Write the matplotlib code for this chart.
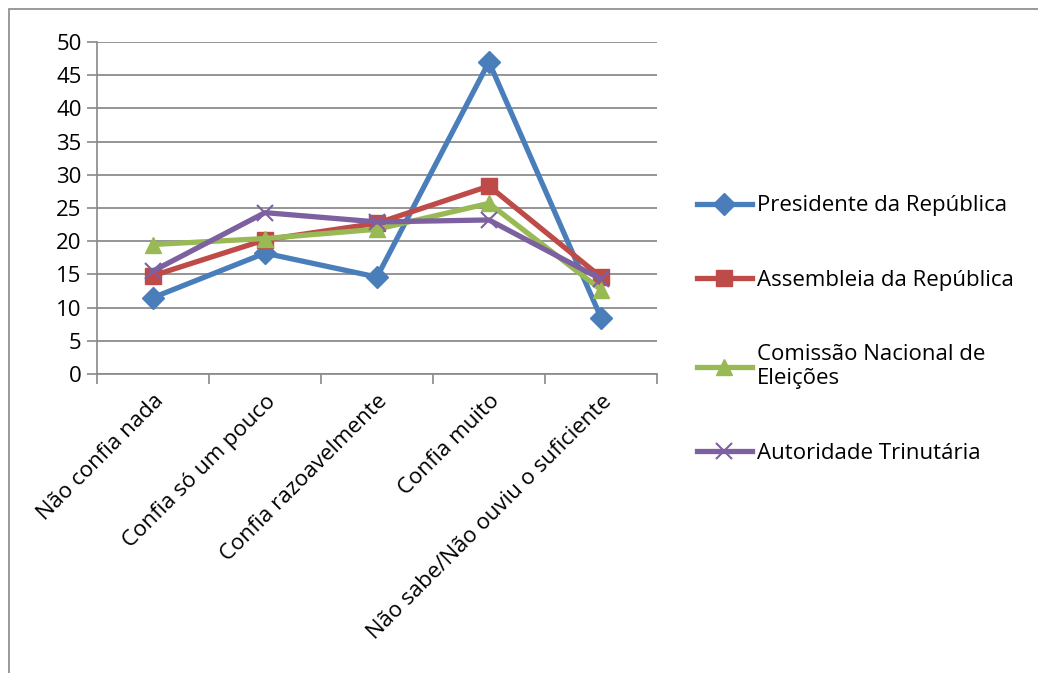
import matplotlib.pyplot as plt
from matplotlib.patches import Rectangle

categories = ["Não confia nada", "Confia só um pouco", "Confia razoavelmente",
              "Confia muito", "Não sabe/Não ouviu o suficiente"]
presidente = [11.5, 18.2, 14.6, 47.0, 8.5]
assembleia = [14.8, 20.2, 22.7, 28.3, 14.6]
comissao = [19.5, 20.4, 21.8, 25.7, 12.7]
autoridade = [15.5, 24.3, 22.9, 23.2, 14.3]

series = [
    ("Presidente da República", presidente, "#4A7EBB", "D", 11),
    ("Assembleia da República", assembleia, "#BE4B48", "s", 11),
    ("Comissão Nacional de\nEleições", comissao, "#98B954", "^", 12),
    ("Autoridade Trinutária", autoridade, "#7D60A0", "x", 12),
]

plt.rcParams['font.family'] = ['Open Sans', 'DejaVu Sans']

fig = plt.figure(figsize=(10.38, 6.73), dpi=100)
ax = fig.add_axes([0.0934, 0.4443, 0.5395, 0.4933])

# outer chart frame
fig.patches.append(Rectangle((0.009, -0.01), 1.2, 0.997, transform=fig.transFigure,
                             fill=False, edgecolor="#898989", linewidth=1.2))

xs = [i + 0.5 for i in range(len(categories))]
for label, vals, color, marker, ms in series:
    kw = dict(markeredgewidth=1.5) if marker == "x" else dict(markeredgecolor=color)
    ax.plot(xs, vals, color=color, linewidth=3.8, marker=marker, markersize=ms,
            label=label, **kw)

ax.set_xlim(0, len(categories))
ax.set_ylim(0, 50)
ax.set_yticks(range(0, 51, 5))
ax.set_xticks(range(len(categories) + 1))
ax.set_xticklabels([])
ax.set_xticks(xs, minor=True)
ax.set_xticklabels(categories, minor=True, rotation=45, ha="right", va="top",
                   rotation_mode="anchor", fontsize=16)
ax.tick_params(axis="x", which="minor", length=0, pad=12)
ax.tick_params(axis="x", which="major", length=7, color="#898989", width=1.2)
ax.tick_params(axis="y", length=7, color="#898989", width=1.2, labelsize=16, pad=4)

ax.grid(axis="y", color="#8c8c8c", linewidth=1.3)
ax.set_axisbelow(True)
for side in ["top", "right"]:
    ax.spines[side].set_visible(False)
for side in ["left", "bottom"]:
    ax.spines[side].set_color("#898989")
    ax.spines[side].set_linewidth(1.2)

ax.legend(loc="center left", bbox_to_anchor=(1.035, 0.134), frameon=False, fontsize=16,
          handlelength=2.5, handletextpad=0.2, labelspacing=2.4)

fig.savefig("out.png", dpi=100)
